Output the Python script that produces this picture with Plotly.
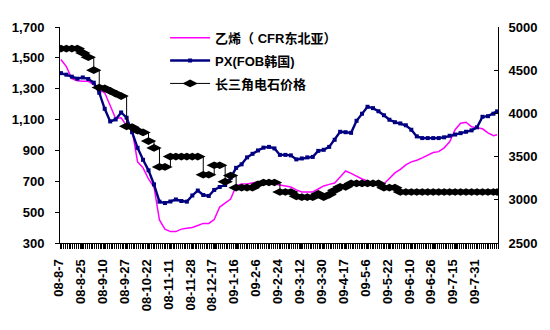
import plotly.graph_objects as go

# category tick labels (trading days, one label every 12 days)
x_tick_labels = ["08-8-7", "08-8-25", "08-9-10", "08-9-27", "08-10-22", "08-11-11",
                 "08-11-28", "08-12-17", "09-1-16", "09-2-6", "09-2-24", "09-3-12",
                 "09-3-30", "09-4-17", "09-5-6", "09-5-22", "09-6-10", "09-6-26",
                 "09-7-15", "09-7-31"]
label_index = [0, 12, 24, 36, 48, 60, 72, 84, 96, 108, 120, 132, 144, 156, 168,
               180, 192, 204, 216, 228]
n_days = 240

# day index of every value
sample_index = list(range(0, n_days, 3)) + [n_days - 1]

# 乙烯（CFR东北亚）, left axis
ethylene = [1489, 1443, 1365, 1352, 1348, 1348, 1326, 1294, 1274, 1190,
            1107, 1112, 1060, 1034, 826, 787, 715, 663, 449, 390,
            374, 374, 390, 395, 400, 413, 427, 427, 452, 533,
            557, 585, 670, 683, 683, 689, 696, 696, 689, 686,
            676, 670, 663, 644, 631, 631, 631, 650, 670, 680,
            689, 728, 767, 751, 731, 715, 702, 689, 676, 683,
            722, 754, 777, 806, 826, 836, 852, 871, 886, 892,
            917, 956, 1034, 1076, 1083, 1053, 1047, 1040, 1014, 995,
            1001]

# PX(FOB韩国), left axis
px_korea = [1401, 1391, 1378, 1365, 1373, 1363, 1339, 1274, 1170, 1088,
            1101, 1146, 1112, 1018, 917, 839, 771, 680, 568, 559,
            569, 582, 572, 568, 608, 640, 611, 605, 644, 663,
            676, 722, 787, 810, 855, 878, 900, 918, 923, 913,
            871, 871, 868, 842, 848, 855, 858, 897, 904, 923,
            969, 1021, 1018, 1014, 1092, 1138, 1183, 1174, 1154, 1128,
            1099, 1083, 1075, 1063, 1034, 991, 980, 980, 980, 980,
            985, 995, 1003, 1012, 1021, 1030, 1050, 1118, 1122, 1138,
            1153]

# 长三角电石价格, right axis
carbide = [4750, 4750, 4750, 4750, 4700, 4650, 4500, 4300, 4290, 4260,
           4230, 4200, 3850, 3840, 3800, 3780, 3680, 3600, 3380, 3380,
           3500, 3500, 3500, 3500, 3500, 3500, 3290, 3290, 3400, 3400,
           3210, 3280, 3140, 3140, 3140, 3140, 3180, 3200, 3200, 3200,
           3090, 3090, 3090, 3040, 3030, 3030, 3030, 3070, 3030, 3060,
           3110, 3150, 3150, 3190, 3190, 3190, 3190, 3190, 3190, 3140,
           3140, 3140, 3090, 3090, 3090, 3090, 3090, 3090, 3090, 3090,
           3090, 3090, 3090, 3090, 3090, 3090, 3090, 3090, 3090, 3090,
           3090]

series_names = ["乙烯（ CFR东北亚）", "PX(FOB韩国)", "长三角电石价格"]

fig = go.Figure()
fig.add_trace(go.Scatter(
    x=sample_index, y=ethylene, name=series_names[0], mode="lines",
    line=dict(color="#FF00FF", width=1.5), legendgroup="a"))
fig.add_trace(go.Scatter(
    x=sample_index, y=px_korea, name=series_names[1], mode="lines+markers",
    line=dict(color="#000080", width=2.4),
    marker=dict(symbol="square", size=4, color="#000080"), legendgroup="b"))
fig.add_trace(go.Scatter(
    x=sample_index, y=carbide, name=series_names[2], mode="lines+markers",
    line=dict(color="black", width=1, shape="hv"),
    marker=dict(symbol="diamond-wide", size=11, color="black"),
    yaxis="y2", legendgroup="c"))

axis_font = dict(family="Liberation Sans, Arial, sans-serif", size=13,
                 color="black", weight="bold")

fig.update_layout(
    width=550, height=330,
    margin=dict(l=52, r=52, t=27, b=87),
    paper_bgcolor="white", plot_bgcolor="white",
    font=dict(family="Liberation Sans, Arial, Noto Sans CJK SC", size=13,
              color="black", weight="bold"),
    showlegend=True,
    legend=dict(x=0.24, y=1.02, xanchor="left", yanchor="top",
                bgcolor="rgba(0,0,0,0)", tracegroupgap=3, itemwidth=40,
                font=dict(family="Liberation Sans, Noto Sans CJK SC", size=13,
                          color="black", weight="bold")),
    xaxis=dict(range=[-0.5, n_days - 0.5], tickmode="array",
               tickvals=label_index, ticktext=x_tick_labels, tickangle=-90,
               ticks="outside", ticklen=5, tickcolor="black",
               showline=True, linecolor="black", linewidth=1,
               showgrid=False, zeroline=False, tickfont=axis_font,
               ticklabelshift=-2, ticklabelstandoff=5,
               minor=dict(ticks="outside", ticklen=5, tickmode="linear",
                          tick0=-0.5, dtick=1, tickcolor="black",
                          showgrid=False)),
    yaxis=dict(range=[300, 1700], tick0=300, dtick=200, tickformat=",",
               ticks="outside", ticklen=4, tickcolor="black",
               ticklabelstandoff=8,
               showline=True, linecolor="black", linewidth=1,
               showgrid=False, zeroline=False, tickfont=axis_font),
    yaxis2=dict(range=[2500, 5000], tick0=2500, dtick=500, overlaying="y",
                side="right", ticks="inside", ticklen=4, tickcolor="black",
                ticklabelstandoff=7,
                showline=True, linecolor="black", linewidth=1,
                showgrid=False, zeroline=False, tickfont=axis_font),
)

fig.write_html("out.html")
